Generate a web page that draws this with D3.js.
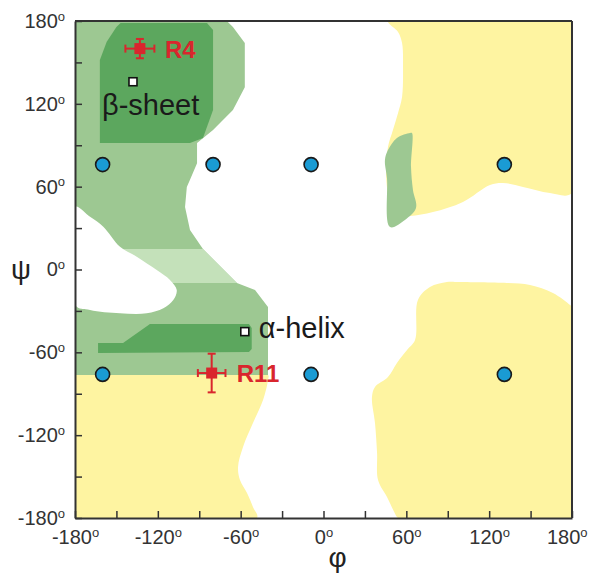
<!DOCTYPE html>
<html>
<head>
<meta charset="utf-8">
<script src="https://cdn.jsdelivr.net/npm/d3@7/dist/d3.min.js"></script>
<style>
  body { margin: 0; background: #fff; }
  text { font-family: "Liberation Sans", Arial, Helvetica, sans-serif; }
</style>
</head>
<body>
<svg id="chart" width="589" height="577"></svg>
<script>
// region outlines as [phi, psi] in degrees
const yellowTopRight = [[46.7,180],[54,172],[56.9,164],[57.6,146.7],[56.9,125],[54,113.4],[50.3,101],[46.7,88.7],
  [45.3,72],[47.4,50.3],[51.8,38.7],[62.7,38.7],[79.3,41.6],[101,48.9],[120.6,61.2],[130,62.7],[144.5,59.8],
  [164,55.4],[180,55.4],[180,180]];
const yellowBottomRight = [[96.7,-9.1],[89.4,-9.1],[77.1,-12.7],[68.4,-22.1],[66.3,-51.1],[60.5,-58.3],[53.2,-67.7],
  [46.7,-77.9],[37.3,-85.1],[35.1,-92.4],[37.3,-111.2],[38.8,-132.9],[39.5,-152.5],[46,-164.8],[53.2,-179.3],
  [54,-180],[180,-180],[180,-27.2],[178.6,-25.7],[166.2,-17],[149.6,-11.2],[132.9,-9.8]];
const yellowBottomLeft = [[-180,-76.4],[-40.2,-76.4],[-40.2,-80],[-43.8,-94.5],[-51.1,-111.2],[-58.3,-128.6],
  [-61.9,-143.1],[-60.5,-152.5],[-55.4,-161.9],[-51.1,-172],[-48.2,-180],[-180,-180]];
const lightGreen = [[-180,180],[-70,180],[-65.6,175.7],[-57,164],[-57,132],[-65.6,115.5],[-80,101],[-91.6,91.6],
  [-91.6,77],[-96.7,65],[-99,59.8],[-100.3,45.3],[-96.7,28.6],[-87.3,14.8],[-62.7,-9.8],[-49.6,-14.9],
  [-40.2,-27.2],[-40.2,-76.4],[-180,-76.4]];
const palestBand = [[-180,14.8],[-87.3,14.8],[-62.7,-9.8],[-180,-9.8]];
const darkGreenBeta = [[-162,91.6],[-162,151.8],[-157,165],[-150,175.7],[-147,178.6],[-84.4,178.6],[-80,173.5],
  [-80,115.5],[-87.3,95.3],[-96.7,91.6]];
const darkGreenAlpha = [[-125.7,-39.5],[-54,-39.5],[-52,-42.4],[-52,-57.6],[-54,-59.8],[-163.3,-60.5],
  [-163.3,-53.2],[-145.2,-53.2]];
const greenPatch = [[62.7,98.9],[53.2,95.3],[46.7,86.5],[44.5,79.3],[46,66],[48.2,30.8],[59,35.9],[67,44.5],
  [64.8,57.6],[63.4,74.2],[64.1,98.9]];
const whiteHole = [[-180,45.5],[-169.1,38.2],[-159.5,31],[-147.4,16.5],[-135.3,9.3],[-120.8,-0.4],[-111.2,-7.6],
  [-106.3,-14.9],[-108.8,-22.1],[-116,-28.1],[-128.1,-31.7],[-147.4,-31.7],[-169.1,-29.3],[-180,-25.7]];

// sampled grid points (phi, psi); the (-80,-76) spot is taken by R11
const gridPhi = [-160, -80, -9, 131, -160, -9, 131];
const gridPsi = [76, 76, 76, 76, -76, -76, -76];

// reference structures and measured residues
const refNames = ["β-sheet", "α-helix"];
const refPhi = [-138, -57];
const refPsi = [136, -45];
const resNames = ["R4", "R11"];
const resPhi = [-133, -81];
const resPsi = [160, -75];
const resErrPhi = [10.5, 10];
const resErrPsi = [7, 14];

const labelTicks = [-180, -120, -60, 0, 60, 120, 180];
const allTicks = [-180, -150, -120, -90, -60, -30, 0, 30, 60, 90, 120, 150, 180];

const svg = d3.select("#chart");
const x = d3.scaleLinear().domain([-180, 180]).range([75, 572]);
const y = d3.scaleLinear().domain([-180, 180]).range([518, 21]);

svg.append("defs").append("clipPath").attr("id", "plot-clip")
  .append("rect").attr("x", 75).attr("y", 21).attr("width", 497).attr("height", 497);

const smooth = d3.line().x(d => x(d[0])).y(d => y(d[1])).curve(d3.curveCatmullRomClosed.alpha(0.5));
const straight = d3.line().x(d => x(d[0])).y(d => y(d[1])).curve(d3.curveLinearClosed);

const regions = [
  { pts: yellowTopRight, fill: "#fef4a1", line: smooth },
  { pts: yellowBottomRight, fill: "#fef4a1", line: smooth },
  { pts: yellowBottomLeft, fill: "#fef4a1", line: smooth },
  { pts: lightGreen, fill: "#9dc892", line: straight },
  { pts: palestBand, fill: "#c4e1ba", line: straight },
  { pts: darkGreenBeta, fill: "#5ca75e", line: straight },
  { pts: darkGreenAlpha, fill: "#5ca75e", line: straight },
  { pts: greenPatch, fill: "#9dc892", line: smooth },
  { pts: whiteHole, fill: "#ffffff", line: smooth }
];

const shapes = svg.append("g").attr("clip-path", "url(#plot-clip)");
shapes.selectAll("path").data(regions).enter().append("path")
  .attr("d", d => d.line(d.pts))
  .attr("fill", d => d.fill)
  .attr("stroke", "none");

// axes, ticks pointing inward
const fmt = d => labelTicks.includes(d) ? String(d) : "";
const addDegree = sel => sel.selectAll(".tick text").each(function(d) {
  if (!labelTicks.includes(d)) return;
  d3.select(this).append("tspan").attr("font-size", 13).attr("dy", "-0.55em").text("o");
});

const yAxis = svg.append("g").attr("transform", "translate(75,0)")
  .call(d3.axisLeft(y).tickValues(allTicks).tickFormat(fmt).tickSizeInner(-7).tickSizeOuter(0).tickPadding(10));
const xAxis = svg.append("g").attr("transform", "translate(0,518)")
  .call(d3.axisBottom(x).tickValues(allTicks).tickFormat(fmt).tickSizeInner(-7).tickSizeOuter(0).tickPadding(8));

[xAxis, yAxis].forEach(a => {
  a.select(".domain").attr("stroke", "#333").attr("stroke-width", 2);
  a.selectAll(".tick line").attr("stroke", "#333").attr("stroke-width", 1.5);
  a.selectAll(".tick text").attr("font-size", 20).attr("fill", "#333");
  addDegree(a);
});
xAxis.selectAll(".tick text").attr("dy", "0.9em");
// last label would run off the page
xAxis.selectAll(".tick text").filter(d => d === 180).attr("text-anchor", "end").attr("x", 15);

svg.append("line").attr("x1", x(-180)).attr("x2", x(180)).attr("y1", y(180)).attr("y2", y(180))
  .attr("stroke", "#333").attr("stroke-width", 2);
svg.append("line").attr("x1", x(180)).attr("x2", x(180)).attr("y1", y(180)).attr("y2", y(-180))
  .attr("stroke", "#333").attr("stroke-width", 2);

svg.append("text").attr("x", 21).attr("y", y(0)).attr("dy", "0.35em")
  .attr("text-anchor", "middle").attr("font-size", 28).attr("fill", "#222").text("ψ");
svg.append("text").attr("x", x(0) + 14).attr("y", 567)
  .attr("text-anchor", "middle").attr("font-size", 28).attr("fill", "#222").text("φ");

// grid points
const grid = gridPhi.map((f, i) => [f, gridPsi[i]]);
svg.selectAll(".grid-pt").data(grid).enter().append("circle")
  .attr("class", "grid-pt")
  .attr("cx", d => x(d[0]))
  .attr("cy", d => y(d[1]))
  .attr("r", 7)
  .attr("fill", "#1a9bd4")
  .attr("stroke", "#1a1a1a")
  .attr("stroke-width", 1.6);

// reference structures
const refs = refNames.map((n, i) => ({ name: n, phi: refPhi[i], psi: refPsi[i] }));
svg.selectAll(".ref-pt").data(refs).enter().append("rect")
  .attr("class", "ref-pt")
  .attr("x", d => x(d.phi) - 4)
  .attr("y", d => y(d.psi) - 4)
  .attr("width", 8).attr("height", 8)
  .attr("fill", "#fff").attr("stroke", "#111").attr("stroke-width", 1.6);
svg.append("text").attr("x", x(refs[0].phi) - 31).attr("y", y(refs[0].psi) + 33)
  .attr("font-size", 29).attr("fill", "#1a1a1a").text(refs[0].name);
svg.append("text").attr("x", x(refs[1].phi) + 14).attr("y", y(refs[1].psi) + 6)
  .attr("font-size", 29).attr("fill", "#1a1a1a").text(refs[1].name);

// measured residues with error bars
const red = "#d9262d";
const res = resNames.map((n, i) => ({ name: n, phi: resPhi[i], psi: resPsi[i], ep: resErrPhi[i], es: resErrPsi[i] }));
const rg = svg.selectAll(".res").data(res).enter().append("g").attr("class", "res");
rg.append("line")
  .attr("x1", d => x(d.phi - d.ep)).attr("x2", d => x(d.phi + d.ep))
  .attr("y1", d => y(d.psi)).attr("y2", d => y(d.psi))
  .attr("stroke", red).attr("stroke-width", 2);
rg.append("line")
  .attr("x1", d => x(d.phi)).attr("x2", d => x(d.phi))
  .attr("y1", d => y(d.psi - d.es)).attr("y2", d => y(d.psi + d.es))
  .attr("stroke", red).attr("stroke-width", 2);
// caps
rg.each(function(d) {
  const g = d3.select(this);
  [d.phi - d.ep, d.phi + d.ep].forEach(v => g.append("line")
    .attr("x1", x(v)).attr("x2", x(v)).attr("y1", y(d.psi) - 4).attr("y2", y(d.psi) + 4)
    .attr("stroke", red).attr("stroke-width", 2));
  [d.psi - d.es, d.psi + d.es].forEach(v => g.append("line")
    .attr("x1", x(d.phi) - 4).attr("x2", x(d.phi) + 4).attr("y1", y(v)).attr("y2", y(v))
    .attr("stroke", red).attr("stroke-width", 2));
});
rg.append("rect")
  .attr("x", d => x(d.phi) - 5.5).attr("y", d => y(d.psi) - 5.5)
  .attr("width", 11).attr("height", 11).attr("fill", red);
rg.append("text")
  .attr("x", d => x(d.phi) + 25)
  .attr("y", d => y(d.psi) + 9)
  .attr("font-size", 24).attr("font-weight", "bold").attr("fill", red)
  .text(d => d.name);
</script>
</body>
</html>
